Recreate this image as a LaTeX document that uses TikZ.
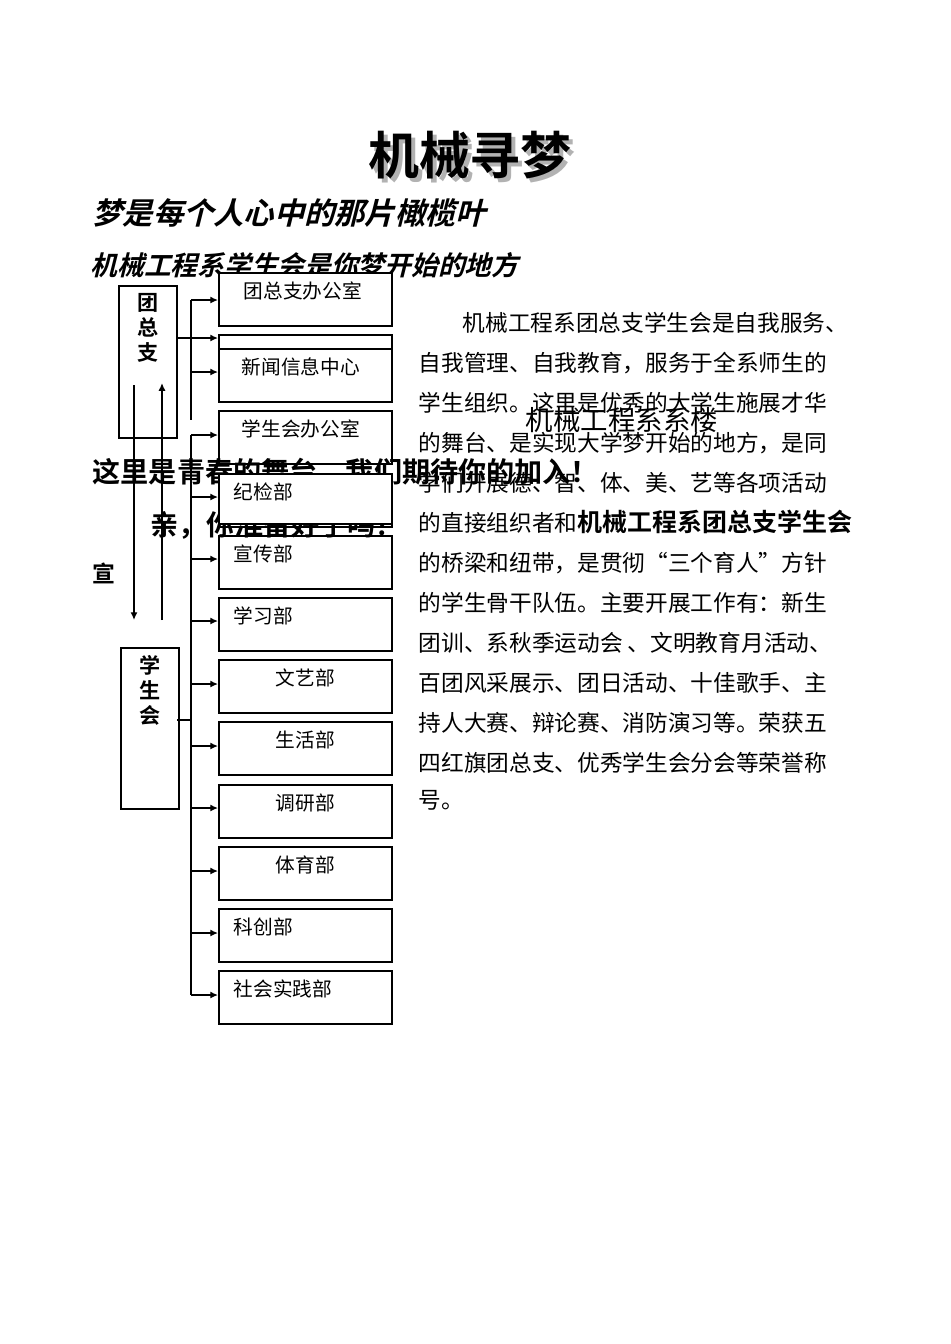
\documentclass[tikz,border=0pt]{standalone}
\usepackage{fontspec}
\setmainfont{Noto Sans CJK SC}[BoldFont={Noto Sans CJK SC Bold}]
\newfontfamily\slantcjk{Noto Sans CJK SC Bold}[FakeSlant=0.25]
\usetikzlibrary{positioning,arrows.meta}

\tikzset{
  dept/.style={draw, line width=0.6pt, minimum width=1.73cm, minimum height=0.5cm, anchor=north west, inner sep=0pt},
  head/.style={draw, line width=0.6pt, minimum width=0.58cm, anchor=north west, inner sep=0pt},
  deptlabel/.style={anchor=north west, inner sep=0pt, font=\fontsize{5.6pt}{6pt}\selectfont},
  bodyline/.style={anchor=west, inner sep=0pt, font=\fontsize{6.45pt}{7pt}\selectfont},
  link/.style={line width=0.4pt, -{Latex[length=2.2pt,width=2pt]}}
}

\begin{document}
\begin{tikzpicture}[x=0.01cm, y=-0.01cm]
  \useasboundingbox (0,0) rectangle (950,1344);
  % title
  \node[text=gray!60, font=\fontsize{14.5pt}{15pt}\selectfont\bfseries] at (474,159) {机械寻梦};
  \node (title) [font=\fontsize{14.5pt}{15pt}\selectfont\bfseries] at (470,155) {机械寻梦};
  \node (sub1) [anchor=west, inner sep=0pt, font=\fontsize{8.6pt}{9pt}\slantcjk] at (92,213) {梦是每个人心中的那片橄榄叶};
  \node (sub2) [anchor=west, inner sep=0pt, font=\fontsize{7.6pt}{9pt}\slantcjk] at (90,265) {机械工程系学生会是你梦开始的地方};

  % heads
  \node[head, minimum height=1.52cm] (tzz) at (118,285) {};
  \node[anchor=north, font=\fontsize{6pt}{7pt}\selectfont\bfseries, align=center, inner sep=0pt] at ([yshift=-0.08cm]tzz.north) {团\\总\\支};
  \node[head, minimum height=1.61cm] (xsh) at (120,647) {};
  \node[anchor=north, font=\fontsize{6pt}{7pt}\selectfont\bfseries, align=center, inner sep=0pt] at ([yshift=-0.08cm]xsh.north) {学\\生\\会};

  % departments
  \node[dept, minimum height=0.3cm] (hidden) at (218,334) {};
  \foreach \y/\t/\n/\lx in {272/团总支办公室/d1/243, 348/新闻信息中心/d2/241, 410/学生会办公室/d3/241,
    473/纪检部/d4/233, 535/宣传部/d5/233, 597/学习部/d6/233, 659/文艺部/d7/275, 721/生活部/d8/275,
    784/调研部/d9/275, 846/体育部/d10/275, 908/科创部/d11/233, 970/社会实践部/d12/233} {
    \node[dept, fill=white, minimum height=0.53cm] (\n) at (218,\y) {};
    \node[deptlabel] at (\lx,\y+9) {\t};
  }

  % buses
  \coordinate (busa) at (191,300);
  \coordinate (busb) at (191,435);
  \draw[line width=0.4pt] (191,300) -- (191,420);
  \draw[line width=0.4pt] (191,435) -- (191,995);
  \draw[link] (busa) -- (busa-|d1.west);
  \draw[link] (178,338) -- (218,338);
  \draw[link] (191,372) -- (218,372);
  \draw[link] (busb) -- (busb-|d3.west);
  \foreach \y in {497, 559, 621, 684, 746, 808, 871, 933, 995}
    \draw[link] (191,\y) -- (218,\y);
  \draw[line width=0.4pt] (177,720) -- (191,720);
  \draw[link] (134,385) -- (134,620);
  \draw[link] (162,620) -- (162,383);

  % slogans
  \node (slogan1) [anchor=west, inner sep=0pt, font=\fontsize{8pt}{8pt}\selectfont\bfseries] at (92,472) {这里是青春的舞台，我们期待你的加入！};
  \node (slogan2) [anchor=west, inner sep=0pt, font=\fontsize{8pt}{8pt}\selectfont\bfseries] at (150,525) {亲，你准备好了吗？};
  \node (xuan) [anchor=west, inner sep=0pt, font=\fontsize{6.5pt}{7pt}\selectfont\bfseries] at (92,573) {宣};
  \node[dept, fill=white, minimum height=0.5cm] (d4b) at (218,473) {};
  \node[deptlabel] at (233,482) {纪检部};

  % description
  \node[bodyline] at (462,323) {机械工程系团总支学生会是自我服务、};
  \foreach \y/\t in {363/自我管理、自我教育，服务于全系师生的, 403/学生组织。这里是优秀的大学生施展才华,
    443/的舞台、是实现大学梦开始的地方，是同, 483/学们开展德、智、体、美、艺等各项活动,
    523/的直接组织者和, 563/的桥梁和纽带，是贯彻“三个育人”方针,
    603/的学生骨干队伍。主要开展工作有：新生, 643/团训、系秋季运动会 、文明教育月活动、,
    683/百团风采展示、团日活动、十佳歌手、主, 723/持人大赛、辩论赛、消防演习等。荣获五,
    763/四红旗团总支、优秀学生会分会等荣誉称, 800/号。}
    \node[bodyline] at (418,\y) {\t};
  \node (bldg) [font=\fontsize{7.8pt}{8pt}\selectfont] at (622,420) {机械工程系系楼};
  \node (org) [anchor=west, inner sep=0pt, font=\fontsize{7.1pt}{8pt}\selectfont\bfseries] at (577,522) {机械工程系团总支学生会};
\end{tikzpicture}
\end{document}
